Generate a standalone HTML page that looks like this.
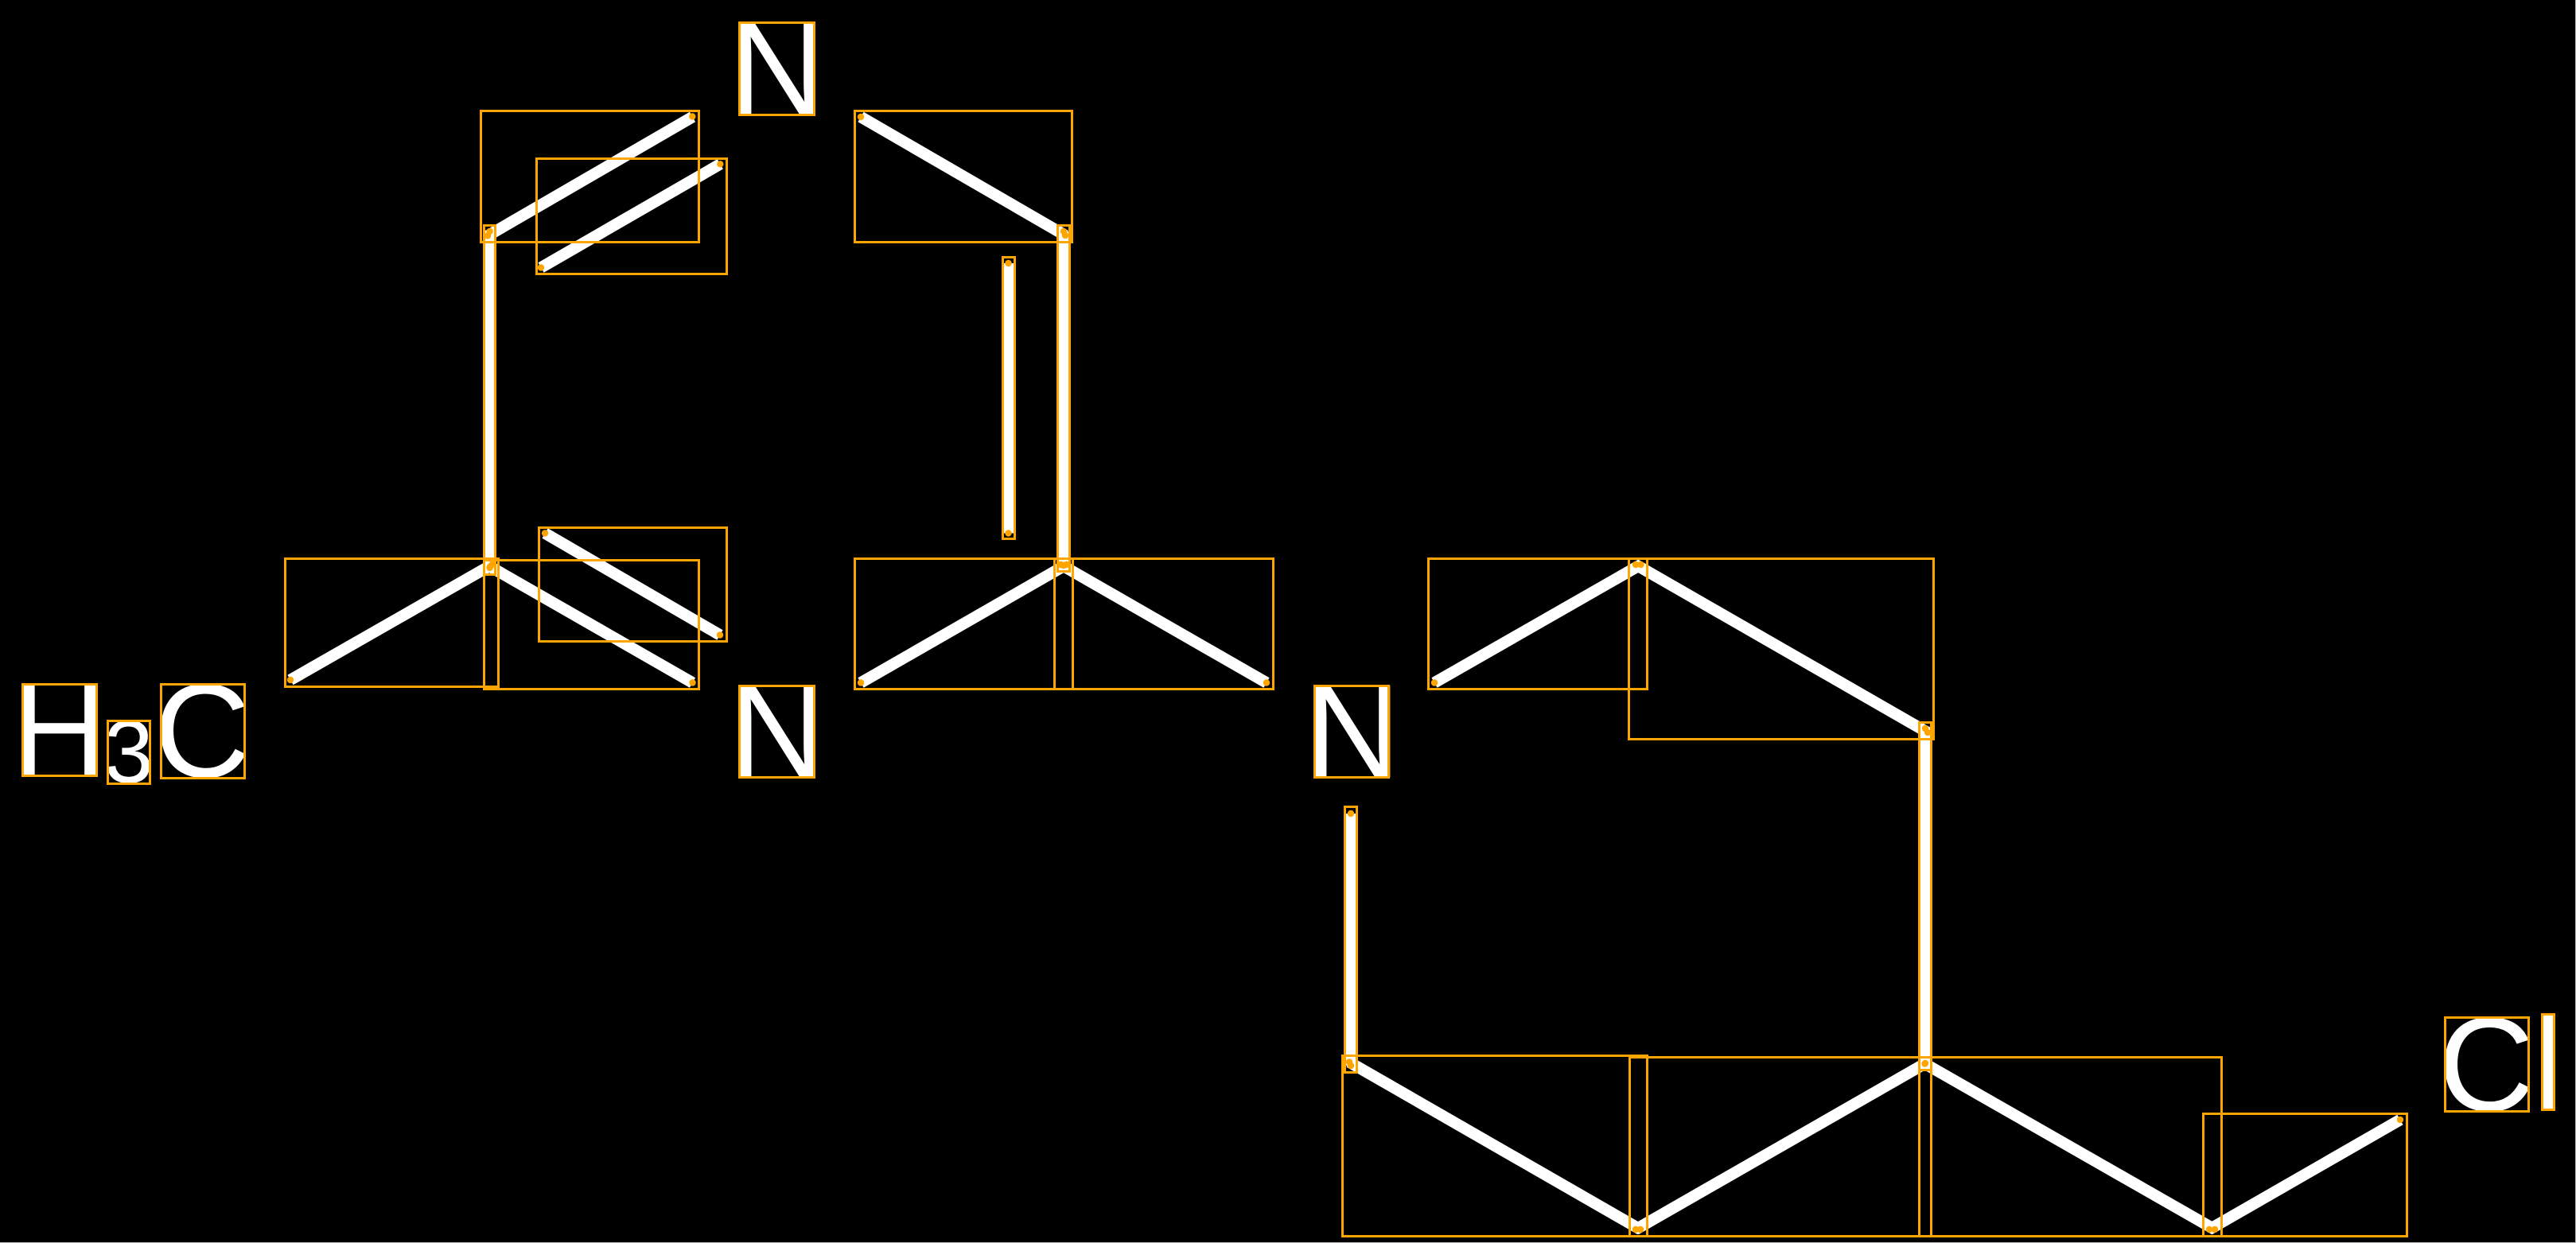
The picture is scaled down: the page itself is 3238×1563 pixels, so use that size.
<!DOCTYPE html>
<html><head><meta charset="utf-8"><style>
html,body{margin:0;padding:0;background:#000;width:3238px;height:1563px;overflow:hidden}
svg{display:block}
text{font-family:"Liberation Sans",sans-serif;fill:#fff}
</style></head><body>
<svg width="3238" height="1563" viewBox="0 0 3238 1563" xmlns="http://www.w3.org/2000/svg">
<rect width="3238" height="1563" fill="#000"/>
<rect x="3237" y="0" width="1" height="1563" fill="#bbb"/>
<rect x="0" y="1562" width="3238" height="1" fill="#bbb"/>
<g stroke="#fff" stroke-width="14.4" fill="none">
<line x1="613" y1="296.5" x2="870.5" y2="147"/>
<line x1="680" y1="336.5" x2="905.3" y2="206.3"/>
<line x1="1082" y1="147" x2="1339" y2="296"/>
<line x1="615.5" y1="291" x2="615.5" y2="714"/>
<line x1="365" y1="855" x2="618.5" y2="710"/>
<line x1="616" y1="712.5" x2="870.5" y2="858.5"/>
<line x1="685" y1="670.5" x2="905" y2="798.5"/>
<line x1="1337" y1="291" x2="1337" y2="711"/>
<line x1="1268" y1="331" x2="1268" y2="670.5"/>
<line x1="1082" y1="858.5" x2="1340.5" y2="710"/>
<line x1="1333.5" y1="710" x2="1592" y2="858.5"/>
<line x1="1803" y1="858.5" x2="2062.5" y2="710"/>
<line x1="2056" y1="710" x2="2423" y2="921"/>
<line x1="2420" y1="916" x2="2420" y2="1337"/>
<line x1="1698" y1="1023" x2="1698" y2="1340"/>
<line x1="1696" y1="1335.5" x2="2062" y2="1546"/>
<line x1="2056" y1="1546" x2="2419.5" y2="1337.5"/>
<line x1="2419.5" y1="1337.5" x2="2784" y2="1546"/>
<line x1="2777" y1="1546" x2="3017" y2="1408"/>
</g>
<g font-size="168">
<text x="916.7" y="144.5">N</text>
<text x="916.7" y="977.5">N</text>
<text x="1639.7" y="977.5">N</text>
<text x="14.2" y="976">H</text>
<text x="193.6" y="977">C</text>
<text x="130.6" y="984" font-size="112">3</text>
<text x="3064.6" y="1396.4">C</text>
<text x="3184.2" y="1396">l</text>
</g>
<g stroke="#ffa500" stroke-width="3" fill="none" shape-rendering="crispEdges">
<rect x="604.5" y="139.5" width="274" height="165"/>
<rect x="674.5" y="199.5" width="239" height="145"/>
<rect x="1074.5" y="139.5" width="273" height="165"/>
<rect x="608.5" y="283.5" width="14" height="439"/>
<rect x="358.5" y="702.5" width="268" height="161"/>
<rect x="608.5" y="704.5" width="270" height="162"/>
<rect x="677.5" y="663.5" width="236" height="143"/>
<rect x="1329.5" y="283.5" width="15" height="435"/>
<rect x="1260.5" y="323.5" width="15" height="354"/>
<rect x="1074.5" y="702.5" width="274" height="164"/>
<rect x="1325.5" y="702.5" width="275" height="164"/>
<rect x="1795.5" y="702.5" width="275" height="164"/>
<rect x="2047.5" y="702.5" width="383" height="227"/>
<rect x="2412.5" y="908.5" width="15" height="437"/>
<rect x="1690.5" y="1014.5" width="15" height="334"/>
<rect x="1687.5" y="1327.5" width="383" height="227"/>
<rect x="2048.5" y="1329.5" width="379" height="225"/>
<rect x="2412.5" y="1329.5" width="380" height="225"/>
<rect x="2769.5" y="1400.5" width="256" height="154"/>
<rect x="929.5" y="28.5" width="94" height="116"/>
<rect x="929.5" y="862.5" width="94" height="115"/>
<rect x="1652.5" y="862.5" width="93" height="115"/>
<rect x="28.5" y="860.5" width="93" height="115"/>
<rect x="135.5" y="906.5" width="53" height="79"/>
<rect x="202.5" y="860.5" width="105" height="118"/>
<rect x="3073.5" y="1279.5" width="105" height="118"/>
<rect x="3195.5" y="1275.5" width="15" height="120"/>
</g>
<g fill="#ffa500">
<circle cx="613" cy="296.5" r="4.2"/><circle cx="870.3" cy="146.5" r="4.2"/>
<circle cx="680" cy="336.5" r="4.2"/><circle cx="905.3" cy="206.3" r="4.2"/>
<circle cx="1082" cy="147" r="4.2"/><circle cx="1339" cy="296" r="4.2"/>
<circle cx="615.5" cy="291" r="4.2"/><circle cx="615.5" cy="714" r="4.2"/>
<circle cx="365" cy="855" r="4.2"/><circle cx="618.5" cy="710" r="4.2"/>
<circle cx="616" cy="712.5" r="4.2"/><circle cx="870.5" cy="858.5" r="4.2"/>
<circle cx="685" cy="670.5" r="4.2"/><circle cx="905" cy="798.5" r="4.2"/>
<circle cx="1337" cy="291" r="4.2"/><circle cx="1337" cy="711" r="4.2"/>
<circle cx="1267.5" cy="331" r="4.2"/><circle cx="1267.5" cy="670.5" r="4.2"/>
<circle cx="1082" cy="858.5" r="4.2"/><circle cx="1340.5" cy="710" r="4.2"/>
<circle cx="1333.5" cy="710" r="4.2"/><circle cx="1592" cy="858.5" r="4.2"/>
<circle cx="1803" cy="858.5" r="4.2"/><circle cx="2062.5" cy="710" r="4.2"/>
<circle cx="2056" cy="710" r="4.2"/><circle cx="2423" cy="921" r="4.2"/>
<circle cx="2420" cy="916" r="4.2"/><circle cx="2420" cy="1337" r="4.2"/>
<circle cx="1698" cy="1023" r="4.2"/><circle cx="1698" cy="1340" r="4.2"/>
<circle cx="1696" cy="1335.5" r="4.2"/><circle cx="2062" cy="1546" r="4.2"/>
<circle cx="2056" cy="1546" r="4.2"/><circle cx="2419.5" cy="1337.5" r="4.2"/>
<circle cx="2784" cy="1546" r="4.2"/><circle cx="2777" cy="1546" r="4.2"/>
<circle cx="3017" cy="1408" r="4.2"/>
</g>
</svg>
</body></html>
